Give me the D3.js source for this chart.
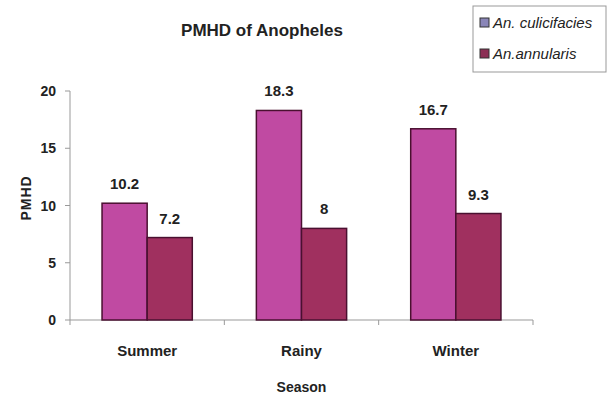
<!DOCTYPE html>
<html>
<head>
<meta charset="utf-8">
<script src="https://cdn.jsdelivr.net/npm/d3@7"></script>
<style>
  body { margin: 0; background: #fff; }
  text { font-family: "Liberation Sans", Arial, sans-serif; font-weight: bold; fill: #222; }
</style>
</head>
<body>
<svg id="chart" width="610" height="394"></svg>
<script>
const seasons = ["Summer", "Rainy", "Winter"];
const seriesNames = ["An. culicifacies", "An.annularis"];
const culicifacies = [10.2, 18.3, 16.7];
const annularis = [7.2, 8, 9.3];
const yTicks = [0, 5, 10, 15, 20];

const barColors = ["#c04aa2", "#a0305f"];
const swatchColors = ["#8a86b8", "#8c2f55"];

const svg = d3.select("#chart");
const margin = { left: 70, right: 77, top: 91, bottom: 74 };
const width = 610, height = 394;

const x = d3.scaleBand()
    .domain(seasons)
    .range([margin.left, width - margin.right])
    .paddingInner(0)
    .paddingOuter(0);

const xSub = d3.scaleBand()
    .domain(seriesNames)
    .range([0, x.bandwidth()])
    .paddingInner(0)
    .paddingOuter(0.71);

const y = d3.scaleLinear()
    .domain([0, 20])
    .range([height - margin.bottom, margin.top]);

const rows = seasons.map((s, i) => ({ season: s, values: [culicifacies[i], annularis[i]] }));

// title
svg.append("text")
    .attr("x", 262).attr("y", 36)
    .attr("text-anchor", "middle")
    .style("font-size", "17px")
    .text("PMHD of Anopheles");

// y axis
const gy = svg.append("g").attr("transform", `translate(${margin.left},0)`);
gy.append("line")
    .attr("x1", 0).attr("x2", 0)
    .attr("y1", y(20)).attr("y2", y(0))
    .attr("stroke", "#999");
gy.selectAll(".tick").data(yTicks).join("line")
    .attr("x1", -5).attr("x2", 0)
    .attr("y1", d => y(d)).attr("y2", d => y(d))
    .attr("stroke", "#999");
gy.selectAll(".lbl").data(yTicks).join("text")
    .attr("x", -14).attr("y", d => y(d) + 5)
    .attr("text-anchor", "end")
    .style("font-size", "14px")
    .text(d => d);

// x axis
const gx = svg.append("g");
gx.append("line")
    .attr("x1", x.range()[0]).attr("x2", x.range()[1])
    .attr("y1", y(0)).attr("y2", y(0))
    .attr("stroke", "#999");
const bounds = seasons.map(s => x(s)).concat([x.range()[1]]);
gx.selectAll(".tk").data(bounds).join("line")
    .attr("x1", d => d).attr("x2", d => d)
    .attr("y1", y(0)).attr("y2", y(0) + 5)
    .attr("stroke", "#999");
gx.selectAll(".cat").data(seasons).join("text")
    .attr("x", d => x(d) + x.bandwidth() / 2)
    .attr("y", y(0) + 36)
    .attr("text-anchor", "middle")
    .style("font-size", "15px")
    .text(d => d);

// bars
const groups = svg.selectAll(".grp").data(rows).join("g")
    .attr("transform", d => `translate(${x(d.season)},0)`);
groups.selectAll("rect")
    .data(d => d.values.map((v, i) => ({ key: seriesNames[i], v, i })))
    .join("rect")
    .attr("x", d => xSub(d.key))
    .attr("width", xSub.bandwidth())
    .attr("y", d => y(d.v))
    .attr("height", d => y(0) - y(d.v))
    .attr("fill", d => barColors[d.i])
    .attr("stroke", "#4a1030")
    .attr("stroke-width", 1.5);
groups.selectAll(".val")
    .data(d => d.values.map((v, i) => ({ key: seriesNames[i], v, i })))
    .join("text")
    .attr("x", d => xSub(d.key) + xSub.bandwidth() / 2)
    .attr("y", d => y(d.v) - 14)
    .attr("text-anchor", "middle")
    .style("font-size", "15px")
    .text(d => d.v);

// axis titles
svg.append("text")
    .attr("x", x(seasons[1]) + x.bandwidth() / 2)
    .attr("y", 392)
    .attr("text-anchor", "middle")
    .style("font-size", "14px")
    .text("Season");
svg.append("text")
    .attr("transform", `translate(31,198) rotate(-90)`)
    .attr("text-anchor", "middle")
    .style("font-size", "14px")
    .style("letter-spacing", "1px")
    .text("PMHD");

// legend
const lg = svg.append("g").attr("transform", "translate(473,6)");
lg.append("rect")
    .attr("width", 133).attr("height", 66)
    .attr("fill", "#fff")
    .attr("stroke", "#999");
seriesNames.forEach((name, i) => {
    const row = lg.append("g").attr("transform", `translate(7,${17 + i * 31})`);
    row.append("rect")
        .attr("x", 0).attr("y", -5)
        .attr("width", 9).attr("height", 9)
        .attr("fill", swatchColors[i])
        .attr("stroke", "#333");
    row.append("text")
        .attr("x", 13).attr("y", 5)
        .style("font-size", "15px")
        .style("font-style", "italic")
        .style("font-weight", "normal")
        .text(name);
});
</script>
</body>
</html>
